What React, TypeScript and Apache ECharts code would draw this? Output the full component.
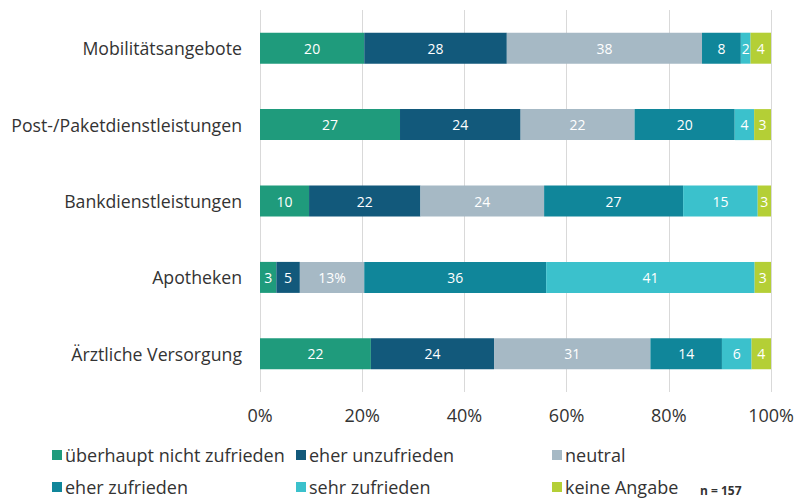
import React, { useEffect, useRef } from "react";
import * as echarts from "echarts";

const categories = [
  "Mobilitätsangebote",
  "Post-/Paketdienstleistungen",
  "Bankdienstleistungen",
  "Apotheken",
  "Ärztliche Versorgung",
];

const seriesNames = [
  "überhaupt nicht zufrieden",
  "eher unzufrieden",
  "neutral",
  "eher zufrieden",
  "sehr zufrieden",
  "keine Angabe",
];

const colors = ["#1f9b7c", "#12597b", "#a6b9c5", "#10869a", "#3bc1cc", "#b4cf36"];

// values per series, in category order
const ueberhauptNichtZufrieden = [20.4, 27.4, 9.6, 3.2, 21.7];
const eherUnzufrieden = [27.9, 23.6, 21.8, 4.6, 24.1];
const neutral = [38.2, 22.3, 24.2, 12.6, 30.6];
const eherZufrieden = [7.6, 19.6, 27.2, 35.6, 14.0];
const sehrZufrieden = [1.9, 3.8, 14.6, 40.8, 5.8];
const keineAngabe = [4.0, 3.3, 2.6, 3.2, 3.8];

const seriesValues = [
  ueberhauptNichtZufrieden,
  eherUnzufrieden,
  neutral,
  eherZufrieden,
  sehrZufrieden,
  keineAngabe,
];

// labels that carry a percent sign in the original: [seriesIndex, categoryIndex]
const percentLabeled = [[2, 3]];

const xTicks = { min: 0, max: 100, interval: 20 };
const sampleNote = "n = 157";

const FONT = "'Open Sans', 'Noto Sans', sans-serif";

export default function App() {
  const ref = useRef<HTMLDivElement>(null);

  useEffect(() => {
    if (!ref.current) return;
    const chart = echarts.init(ref.current, undefined, { renderer: "svg" });

    const series = seriesNames.map((name, si) => ({
      name,
      type: "bar",
      stack: "total",
      barWidth: 31,
      itemStyle: { color: colors[si] },
      label: {
        show: true,
        position: "inside",
        color: "#ffffff",
        fontSize: 14,
        fontFamily: FONT,
        formatter: (p: any) => {
          const pct = percentLabeled.some((x) => x[0] === si && x[1] === p.dataIndex);
          return Math.round(p.value) + (pct ? "%" : "");
        },
      },
      data: seriesValues[si],
    }));

    const legendCol = (left: number, idx: number[]) => ({
      type: "plain",
      orient: "vertical",
      left,
      top: 444,
      height: 80,
      padding: 2,
      itemWidth: 10,
      itemHeight: 10,
      itemGap: 14,
      icon: "rect",
      selectedMode: false,
      textStyle: { fontSize: 18, color: "#333333", fontFamily: FONT, padding: [0, 0, 0, -2] },
      data: idx.map((i) => seriesNames[i]),
    });

    chart.setOption({
      animation: false,
      textStyle: { fontFamily: FONT },
      grid: { left: 260, right: 26, top: 10, bottom: 110, containLabel: false },
      xAxis: {
        type: "value",
        min: xTicks.min,
        max: xTicks.max,
        interval: xTicks.interval,
        axisLine: { show: false },
        axisTick: { show: false },
        splitLine: { show: true, lineStyle: { color: "#d9d9d9", width: 1 } },
        axisLabel: {
          formatter: "{value}%",
          fontSize: 18,
          color: "#333333",
          margin: 14,
          fontFamily: FONT,
        },
      },
      yAxis: {
        type: "category",
        data: categories,
        inverse: true,
        axisLine: { show: false },
        axisTick: { show: false },
        axisLabel: { fontSize: 17.7, color: "#333333", margin: 18, fontFamily: FONT },
      },
      legend: [legendCol(50, [0, 3]), legendCol(294, [1, 4]), legendCol(550, [2, 5])],
      graphic: [
        {
          type: "text",
          left: 700,
          top: 484,
          style: {
            text: sampleNote,
            fontSize: 12,
            fontWeight: "bold",
            fill: "#333333",
            fontFamily: FONT,
          },
        },
      ],
      series,
    });

    return () => chart.dispose();
  }, []);

  return (
    <div
      ref={ref}
      style={{ position: "fixed", left: 0, top: 0, width: 797, height: 502, background: "#ffffff" }}
    />
  );
}
